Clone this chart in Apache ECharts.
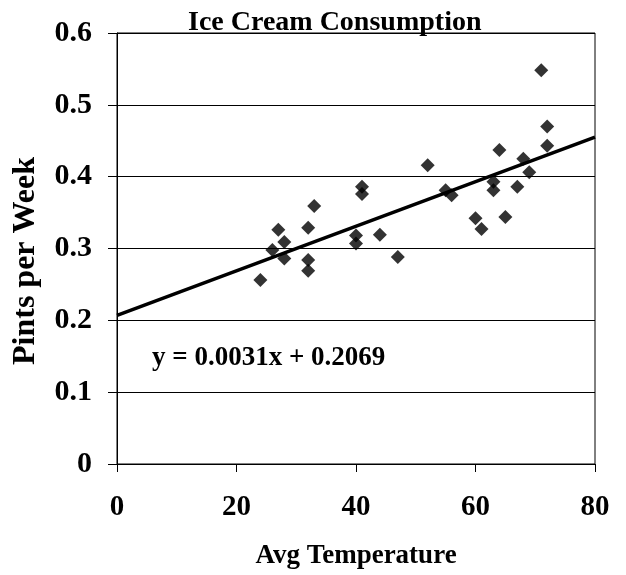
<!DOCTYPE html>
<html>
<head>
<meta charset="utf-8">
<script src="https://cdn.jsdelivr.net/npm/echarts@6/dist/echarts.min.js"></script>
<style>html,body{margin:0;padding:0;background:#fff;}#c{width:626px;height:575px;}</style>
</head>
<body>
<div id="c"></div>
<script>
var temperature = [41,56,63,68,69,65,61,47,32,24,28,26,32,40,55,63,72,72,67,60,44,40,32,27,28,33,41,52,64,71];
var pints = [0.386,0.374,0.393,0.425,0.406,0.344,0.327,0.288,0.269,0.256,0.286,0.298,0.329,0.318,0.381,0.381,0.470,0.443,0.386,0.342,0.319,0.307,0.284,0.326,0.309,0.359,0.376,0.416,0.437,0.548];
var trendX = [0, 80];
var trendY = [0.2069, 0.4549];
var xTicks = [0, 20, 40, 60, 80];
var yTicks = [0, 0.1, 0.2, 0.3, 0.4, 0.5, 0.6];
var titleText = 'Ice Cream Consumption';
var xTitle = 'Avg Temperature';
var yTitle = 'Pints per Week';
var equationText = 'y = 0.0031x + 0.2069';

var FONT = '"Liberation Serif", "Times New Roman", serif';
var chart = echarts.init(document.getElementById('c'), null, {renderer: 'canvas'});
var scatterData = temperature.map(function (t, i) { return [t, pints[i]]; });
var trendData = trendX.map(function (x, i) { return [x, trendY[i]]; });

chart.setOption({
  backgroundColor: '#fff',
  animation: false,
  title: {
    text: titleText,
    left: 183, top: 4,
    textStyle: {fontFamily: FONT, fontWeight: 'bold', fontSize: 28, color: '#000'}
  },
  grid: {left: 117, right: 31, top: 33, bottom: 111, show: true, borderColor: '#000', borderWidth: 1, backgroundColor: 'transparent'},
  xAxis: {
    type: 'value', min: xTicks[0], max: xTicks[xTicks.length - 1], interval: 20,
    name: xTitle, nameLocation: 'middle', nameGap: 79,
    nameTextStyle: {fontFamily: FONT, fontWeight: 'bold', fontSize: 27, color: '#000'},
    axisLine: {show: true, lineStyle: {color: '#000', width: 1}},
    axisTick: {show: true, length: 8, lineStyle: {color: '#000'}},
    axisLabel: {margin: 29, fontFamily: FONT, fontWeight: 'bold', fontSize: 29, color: '#000'},
    splitLine: {show: false}
  },
  yAxis: {
    type: 'value', min: yTicks[0], max: yTicks[yTicks.length - 1], interval: 0.1,
    name: '',
    axisLine: {show: true, lineStyle: {color: '#000', width: 1}},
    axisTick: {show: true, length: 9, lineStyle: {color: '#000'}},
    axisLabel: {margin: 25, fontFamily: FONT, fontWeight: 'bold', fontSize: 30, color: '#000',
      formatter: function (v) { return v === 0 ? '0' : v.toFixed(1); }},
    splitLine: {show: true, lineStyle: {color: '#000', width: 1}}
  },
  graphic: [{
    type: 'text', left: 152, top: 345,
    style: {text: equationText, fontFamily: FONT, fontWeight: 'bold', fontSize: 27, fill: '#000'}
  }, {
    type: 'text', x: 26, y: 261, rotation: Math.PI / 2,
    style: {text: yTitle, fontFamily: FONT, fontWeight: 'bold', fontSize: 32, fill: '#000',
      textAlign: 'center', textVerticalAlign: 'middle'}
  }],
  series: [{
    type: 'scatter', data: scatterData, symbol: 'diamond', symbolSize: 14,
    itemStyle: {color: '#000'}, z: 3
  }, {
    type: 'line', data: trendData, symbol: 'none', lineStyle: {color: '#000', width: 3.5}, z: 4
  }]
});
</script>
</body>
</html>
